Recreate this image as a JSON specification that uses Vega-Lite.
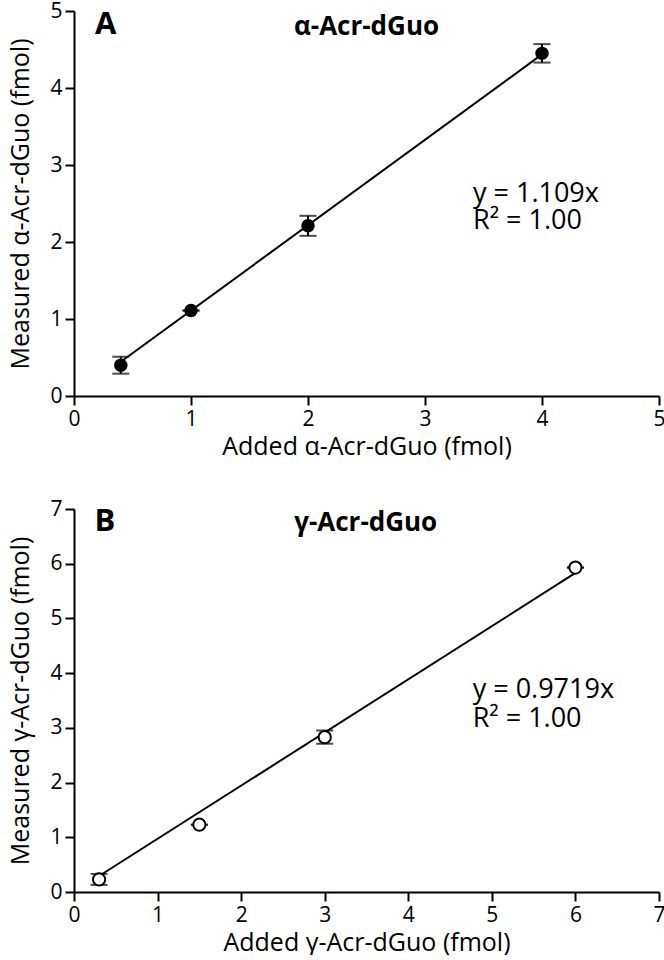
{
  "$schema": "https://vega.github.io/schema/vega-lite/v6.json",
  "background": "white",
  "padding": {"left": 8, "top": 0, "right": 0, "bottom": 0},
  "spacing": 39,
  "config": {
    "view": {"stroke": null},
    "font": "Open Sans",
    "axis": {
      "grid": false,
      "domainColor": "black",
      "domainWidth": 2,
      "tickColor": "black",
      "tickWidth": 2,
      "tickSize": 9,
      "labelColor": "black",
      "labelFontSize": 21,
      "labelPadding": 3,
      "labelFlush": false,
      "labelOverlap": false,
      "format": "d",
      "titleColor": "black",
      "titleFontSize": 25,
      "titleFontWeight": "normal"
    },
    "axisY": {"titlePadding": 16},
    "axisX": {"titlePadding": 5}
  },
  "datasets": {
    "ptsA": [
      {"added": 0.4, "measured": 0.40, "lo": 0.29, "hi": 0.51},
      {"added": 1.0, "measured": 1.11, "lo": 1.11, "hi": 1.11},
      {"added": 2.0, "measured": 2.21, "lo": 2.08, "hi": 2.34},
      {"added": 4.0, "measured": 4.45, "lo": 4.33, "hi": 4.57}
    ],
    "fitA": [
      {"added": 0.4, "measured": 0.444},
      {"added": 4.0, "measured": 4.436}
    ],
    "ptsB": [
      {"added": 0.3, "measured": 0.23, "lo": 0.13, "hi": 0.33},
      {"added": 1.5, "measured": 1.23, "lo": 1.23, "hi": 1.23},
      {"added": 3.0, "measured": 2.83, "lo": 2.71, "hi": 2.95},
      {"added": 6.0, "measured": 5.93, "lo": 5.93, "hi": 5.93}
    ],
    "fitB": [
      {"added": 0.3, "measured": 0.292},
      {"added": 6.0, "measured": 5.831}
    ],
    "panelA": [{"x": 0.27, "y": 4.82, "label": "A"}],
    "titleA": [{"x": 2.5, "y": 4.79, "label": "α-Acr-dGuo"}],
    "eqA": [
      {"x": 3.41, "y": 2.62, "label": "y = 1.109x"},
      {"x": 3.41, "y": 2.27, "label": "R² = 1.00"}
    ],
    "panelB": [{"x": 0.37, "y": 6.76, "label": "B"}],
    "titleB": [{"x": 3.49, "y": 6.75, "label": "γ-Acr-dGuo"}],
    "eqB": [
      {"x": 4.77, "y": 3.69, "label": "y = 0.9719x"},
      {"x": 4.77, "y": 3.16, "label": "R² = 1.00"}
    ]
  },
  "vconcat": [
    {
      "width": 585,
      "height": 385,
      "layer": [
        {
          "data": {"name": "fitA"},
          "mark": {"type": "line", "color": "black", "strokeWidth": 2},
          "encoding": {
            "x": {"field": "added", "type": "quantitative", "scale": {"domain": [0, 5], "nice": false, "zero": false},
                  "axis": {"values": [0, 1, 2, 3, 4, 5], "title": "Added α-Acr-dGuo (fmol)"}},
            "y": {"field": "measured", "type": "quantitative", "scale": {"domain": [0, 5], "nice": false, "zero": false},
                  "axis": {"values": [0, 1, 2, 3, 4, 5], "title": "Measured α-Acr-dGuo (fmol)"}}
          }
        },
        {
          "data": {"name": "ptsA"},
          "mark": {"type": "rule", "color": "black", "strokeWidth": 2},
          "encoding": {
            "x": {"field": "added", "type": "quantitative"},
            "y": {"field": "lo", "type": "quantitative"},
            "y2": {"field": "hi"}
          }
        },
        {
          "data": {"name": "ptsA"},
          "mark": {"type": "tick", "orient": "horizontal", "color": "black", "size": 17, "thickness": 2},
          "encoding": {
            "x": {"field": "added", "type": "quantitative"},
            "y": {"field": "lo", "type": "quantitative"}
          }
        },
        {
          "data": {"name": "ptsA"},
          "mark": {"type": "tick", "orient": "horizontal", "color": "black", "size": 17, "thickness": 2},
          "encoding": {
            "x": {"field": "added", "type": "quantitative"},
            "y": {"field": "hi", "type": "quantitative"}
          }
        },
        {
          "data": {"name": "ptsA"},
          "mark": {"type": "point", "shape": "circle", "filled": true, "color": "black", "opacity": 1, "size": 180},
          "encoding": {
            "x": {"field": "added", "type": "quantitative"},
            "y": {"field": "measured", "type": "quantitative"}
          }
        },
        {
          "data": {"name": "panelA"},
          "mark": {"type": "text", "fontSize": 31, "fontWeight": "bold", "align": "center", "baseline": "middle", "color": "black"},
          "encoding": {
            "x": {"field": "x", "type": "quantitative"},
            "y": {"field": "y", "type": "quantitative"},
            "text": {"field": "label"}
          }
        },
        {
          "data": {"name": "titleA"},
          "mark": {"type": "text", "fontSize": 26, "fontWeight": "bold", "align": "center", "baseline": "middle", "color": "black"},
          "encoding": {
            "x": {"field": "x", "type": "quantitative"},
            "y": {"field": "y", "type": "quantitative"},
            "text": {"field": "label"}
          }
        },
        {
          "data": {"name": "eqA"},
          "mark": {"type": "text", "fontSize": 27, "align": "left", "baseline": "middle", "color": "black"},
          "encoding": {
            "x": {"field": "x", "type": "quantitative"},
            "y": {"field": "y", "type": "quantitative"},
            "text": {"field": "label"}
          }
        }
      ]
    },
    {
      "width": 585,
      "height": 383,
      "layer": [
        {
          "data": {"name": "fitB"},
          "mark": {"type": "line", "color": "black", "strokeWidth": 2},
          "encoding": {
            "x": {"field": "added", "type": "quantitative", "scale": {"domain": [0, 7], "nice": false, "zero": false},
                  "axis": {"values": [0, 1, 2, 3, 4, 5, 6, 7], "title": "Added γ-Acr-dGuo (fmol)"}},
            "y": {"field": "measured", "type": "quantitative", "scale": {"domain": [0, 7], "nice": false, "zero": false},
                  "axis": {"values": [0, 1, 2, 3, 4, 5, 6, 7], "title": "Measured γ-Acr-dGuo (fmol)"}}
          }
        },
        {
          "data": {"name": "ptsB"},
          "mark": {"type": "rule", "color": "black", "strokeWidth": 2},
          "encoding": {
            "x": {"field": "added", "type": "quantitative"},
            "y": {"field": "lo", "type": "quantitative"},
            "y2": {"field": "hi"}
          }
        },
        {
          "data": {"name": "ptsB"},
          "mark": {"type": "tick", "orient": "horizontal", "color": "black", "size": 17, "thickness": 2},
          "encoding": {
            "x": {"field": "added", "type": "quantitative"},
            "y": {"field": "lo", "type": "quantitative"}
          }
        },
        {
          "data": {"name": "ptsB"},
          "mark": {"type": "tick", "orient": "horizontal", "color": "black", "size": 17, "thickness": 2},
          "encoding": {
            "x": {"field": "added", "type": "quantitative"},
            "y": {"field": "hi", "type": "quantitative"}
          }
        },
        {
          "data": {"name": "ptsB"},
          "mark": {"type": "point", "shape": "circle", "filled": false, "fill": "white", "fillOpacity": 1, "stroke": "black", "strokeWidth": 2, "opacity": 1, "size": 150},
          "encoding": {
            "x": {"field": "added", "type": "quantitative"},
            "y": {"field": "measured", "type": "quantitative"}
          }
        },
        {
          "data": {"name": "panelB"},
          "mark": {"type": "text", "fontSize": 31, "fontWeight": "bold", "align": "center", "baseline": "middle", "color": "black"},
          "encoding": {
            "x": {"field": "x", "type": "quantitative"},
            "y": {"field": "y", "type": "quantitative"},
            "text": {"field": "label"}
          }
        },
        {
          "data": {"name": "titleB"},
          "mark": {"type": "text", "fontSize": 26, "fontWeight": "bold", "align": "center", "baseline": "middle", "color": "black"},
          "encoding": {
            "x": {"field": "x", "type": "quantitative"},
            "y": {"field": "y", "type": "quantitative"},
            "text": {"field": "label"}
          }
        },
        {
          "data": {"name": "eqB"},
          "mark": {"type": "text", "fontSize": 27, "align": "left", "baseline": "middle", "color": "black"},
          "encoding": {
            "x": {"field": "x", "type": "quantitative"},
            "y": {"field": "y", "type": "quantitative"},
            "text": {"field": "label"}
          }
        }
      ]
    }
  ]
}
